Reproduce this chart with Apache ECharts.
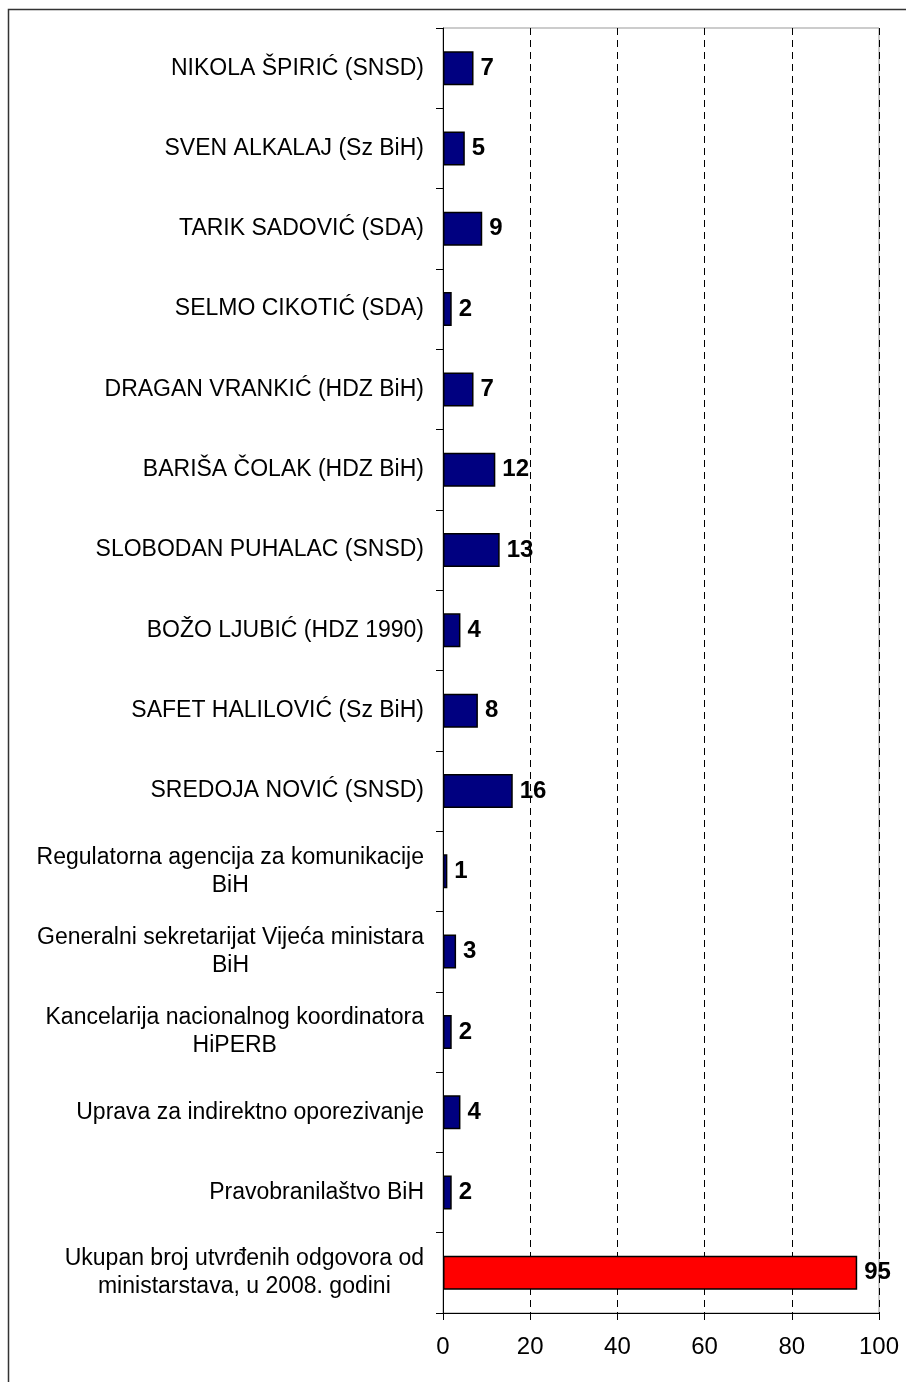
<!DOCTYPE html>
<html>
<head>
<meta charset="utf-8">
<script src="https://cdn.jsdelivr.net/npm/echarts@6/dist/echarts.min.js"></script>
<style>
html,body{margin:0;padding:0;background:#fff;}
#chart{width:906px;height:1382px;}
</style>
</head>
<body>
<div id="chart"></div>
<script>
const categories = [
  'NIKOLA ŠPIRIĆ (SNSD)',
  'SVEN ALKALAJ (Sz BiH)',
  'TARIK SADOVIĆ (SDA)',
  'SELMO CIKOTIĆ (SDA)',
  'DRAGAN VRANKIĆ (HDZ BiH)',
  'BARIŠA ČOLAK (HDZ BiH)',
  'SLOBODAN PUHALAC (SNSD)',
  'BOŽO LJUBIĆ (HDZ 1990)',
  'SAFET HALILOVIĆ (Sz BiH)',
  'SREDOJA NOVIĆ (SNSD)',
  'Regulatorna agencija za komunikacije\nBiH',
  'Generalni sekretarijat Vijeća ministara\nBiH',
  'Kancelarija nacionalnog koordinatora\nHiPERB',
  'Uprava za indirektno oporezivanje',
  'Pravobranilaštvo BiH',
  'Ukupan broj utvrđenih odgovora od\nministarstava, u 2008. godini'
];
const values = [7, 5, 9, 2, 7, 12, 13, 4, 8, 16, 1, 3, 2, 4, 2, 95];
const totalIndex = 15;
const xTicks = [0, 20, 40, 60, 80, 100];

const chart = echarts.init(document.getElementById('chart'));
const FONT = '"Liberation Sans", Arial, sans-serif';

chart.setOption({
  animation: false,
  backgroundColor: '#ffffff',
  graphic: [{
    type: 'rect',
    shape: { x: 8.5, y: 9.5, width: 1200, height: 1600 },
    style: { fill: 'none', stroke: '#333', lineWidth: 1.5 },
    silent: true,
    z: 100
  }],
  grid: {
    left: 443, right: 27, top: 28, bottom: 69,
    show: true, borderColor: '#999', borderWidth: 1,
    containLabel: false
  },
  xAxis: {
    type: 'value',
    min: xTicks[0], max: xTicks[xTicks.length - 1], interval: 20,
    axisLine: { show: true, lineStyle: { color: '#000', width: 1 } },
    axisTick: { show: true, length: 7, lineStyle: { color: '#000' } },
    axisLabel: { margin: 22, color: '#000', fontSize: 24, fontFamily: FONT },
    splitLine: { show: true, lineStyle: { color: '#000', type: [7, 5], width: 1 } }
  },
  yAxis: {
    type: 'category',
    inverse: true,
    data: categories,
    axisLine: { show: true, lineStyle: { color: '#000', width: 1 } },
    axisTick: { show: true, length: 7, alignWithLabel: false, lineStyle: { color: '#000' } },
    axisLabel: {
      margin: 19,
      color: '#000',
      fontSize: 23,
      fontFamily: FONT,
      align: 'right',
      lineHeight: 28,
      formatter: function (v) {
        return v.split('\n').map(function (s) { return '{c|' + s + '}'; }).join('\n');
      },
      rich: {
        c: { align: 'center', fontSize: 23, fontFamily: FONT, color: '#000', lineHeight: 28 }
      }
    },
    splitLine: { show: false }
  },
  series: [{
    type: 'bar',
    barWidth: 34,
    data: values.map(function (v, i) {
      return {
        value: v,
        itemStyle: { color: i === totalIndex ? '#ff0000' : '#000080', borderColor: '#000', borderWidth: 1.5 }
      };
    }),
    label: {
      show: true,
      position: 'right',
      distance: 7,
      color: '#000',
      fontWeight: 'bold',
      fontSize: 24,
      fontFamily: FONT
    }
  }]
});
</script>
</body>
</html>
